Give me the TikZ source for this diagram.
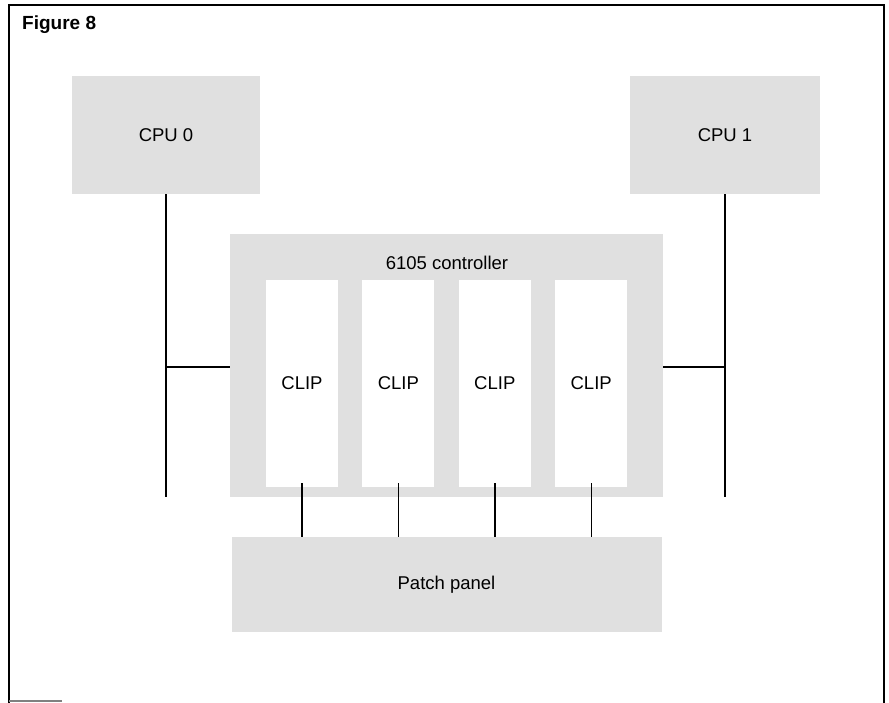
\documentclass[tikz,border=0pt]{standalone}
\usepackage{fontspec}
\setmainfont{Liberation Sans}
\usetikzlibrary{positioning, calc}

\begin{document}
\begin{tikzpicture}[
  x=1pt, y=-1pt,
  font=\fontsize{18.5}{22}\selectfont,
  shaded/.style={rectangle, fill=gray!24, inner sep=0pt, align=center},
  clipbox/.style={rectangle, fill=white, inner sep=0pt, minimum width=72pt, minimum height=207pt},
  wire/.style={line width=1.4pt, black}
]
\useasboundingbox (0,0) rectangle (889,703);

% Frame and title
\draw[line width=1.5pt] (9,703) -- (9,5) -- (884,5) -- (884,703);
\draw[line width=1.2pt, gray] (9,701) -- (62,701);
\node[font=\fontsize{19}{22}\selectfont\bfseries, anchor=west, inner sep=0pt] (title) at (22,25) {Figure 8};

% Processors
\node[shaded, minimum width=188pt, minimum height=118pt] (cpu0) at (166,135) {CPU 0};
\node[shaded, minimum width=190pt, minimum height=118pt] (cpu1) at (725,135) {CPU 1};

% Controller with its CLIPs
\node[shaded, minimum width=433pt, minimum height=263pt] (ctrl) at (446.5,365.5) {};
\node (ctrllabel) at (447,263) {6105 controller};
\node[clipbox] (clip1) at (302,383.5) {CLIP};
\node[clipbox, right=24pt of clip1] (clip2) {CLIP};
\node[clipbox, right=24pt of clip2] (clip3) {CLIP};
\node[clipbox, right=24pt of clip3] (clip4) {CLIP};

% Patch panel
\node[shaded, minimum width=430pt, minimum height=95pt, below=40pt of ctrl] (patch) {Patch panel};

% Buses from the processors
\coordinate (lbot) at (166,497);
\coordinate (ljoin) at (166,367);
\coordinate (rbot) at (725,497);
\coordinate (rjoin) at (725,367);
\draw[wire] (cpu0.south) -- (lbot);
\draw[wire] (ljoin) -- (ctrl.west |- ljoin);
\draw[wire] (cpu1.south) -- (rbot);
\draw[wire] (rjoin) -- (ctrl.east |- rjoin);

% CLIPs to patch panel
\draw[wire] ([yshift=4pt]clip1.south) -- (clip1.south |- patch.north);
\draw[wire] ([yshift=4pt]clip2.south) -- (clip2.south |- patch.north);
\draw[wire] ([yshift=4pt]clip3.south) -- (clip3.south |- patch.north);
\draw[wire] ([yshift=4pt]clip4.south) -- (clip4.south |- patch.north);

\end{tikzpicture}
\end{document}
